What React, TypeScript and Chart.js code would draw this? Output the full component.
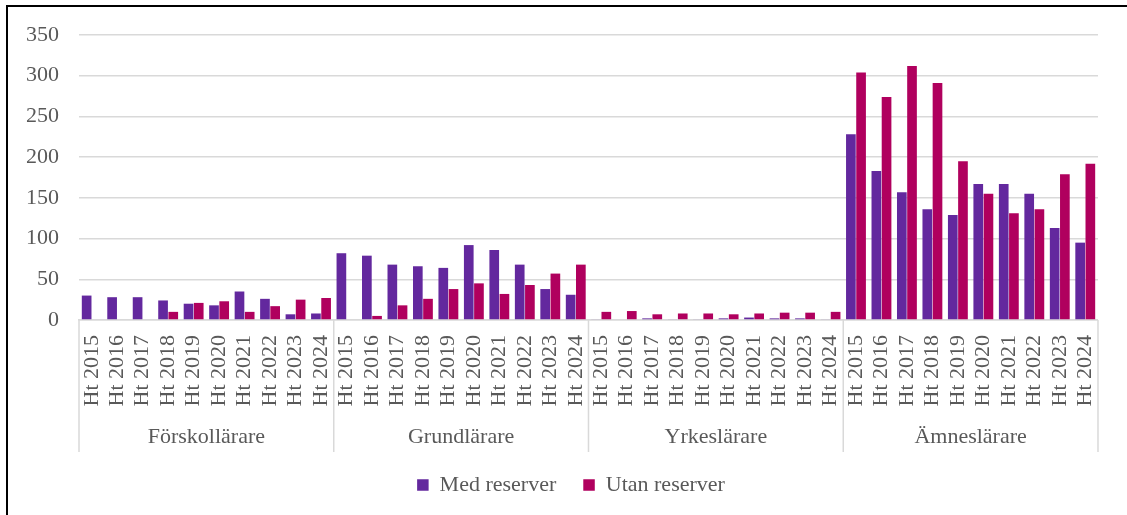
import React, { useEffect, useRef } from "react";
import { Chart, registerables } from "chart.js";

Chart.register(...registerables);

const years = ["Ht 2015", "Ht 2016", "Ht 2017", "Ht 2018", "Ht 2019", "Ht 2020", "Ht 2021", "Ht 2022", "Ht 2023", "Ht 2024"];
const groups = ["Förskollärare", "Grundlärare", "Yrkeslärare", "Ämneslärare"];

const medForskollarare = [30, 28, 28, 24, 20, 18, 35, 26, 7, 8];
const utanForskollarare = [0, 0, 0, 10, 21, 23, 10, 17, 25, 27];
const medGrundlarare = [82, 79, 68, 66, 64, 92, 86, 68, 38, 31];
const utanGrundlarare = [0, 5, 18, 26, 38, 45, 32, 43, 57, 68];
const medYrkeslarare = [1, 0, 2, 1, 1, 2, 3, 2, 2, 1];
const utanYrkeslarare = [10, 11, 7, 8, 8, 7, 8, 9, 9, 10];
const medAmneslarare = [228, 183, 157, 136, 129, 167, 167, 155, 113, 95];
const utanAmneslarare = [304, 274, 312, 291, 195, 155, 131, 136, 179, 192];

const seriesNames = ["Med reserver", "Utan reserver"];
const yTicks = [0, 50, 100, 150, 200, 250, 300, 350];

const FONT = "'Liberation Serif', 'Times New Roman', serif";
const FSIZE = 22;
const TEXT = "#595959";
const GRID = "#d9d9d9";
const PLOT_BOTTOM = 320;
const PLOT_LEFT = 79;
const LEGEND_LEFT = 43;
const PAD_BOTTOM = 9;
const GROUP_BOTTOM = 452;
const GROUP_LABEL_Y = 437;

const groupPlugin = {
  id: "groupLabels",
  beforeDraw(chart: any) {
    const lg = chart.legend;
    if (lg) lg.left = LEGEND_LEFT;
  },
  afterDraw(chart: any) {
    const x = chart.scales.x;
    const ctx = chart.ctx;
    const n = years.length;
    const bounds: number[] = [];
    for (let g = 0; g <= groups.length; g++) {
      if (g === 0) bounds.push(x.left);
      else if (g === groups.length) bounds.push(x.right);
      else bounds.push((x.getPixelForValue(g * n - 1) + x.getPixelForValue(g * n)) / 2);
    }
    ctx.save();
    ctx.strokeStyle = GRID;
    ctx.lineWidth = 1.5;
    bounds.forEach((b) => {
      ctx.beginPath();
      ctx.moveTo(b, chart.chartArea.bottom);
      ctx.lineTo(b, GROUP_BOTTOM);
      ctx.stroke();
    });
    ctx.fillStyle = TEXT;
    ctx.font = `${FSIZE}px ${FONT}`;
    ctx.textAlign = "center";
    ctx.textBaseline = "middle";
    groups.forEach((name, g) => {
      ctx.fillText(name, (bounds[g] + bounds[g + 1]) / 2, GROUP_LABEL_Y);
    });
    ctx.restore();
  },
};

export default function App() {
  const ref = useRef<HTMLCanvasElement | null>(null);

  useEffect(() => {
    if (!ref.current) return;
    const labels: string[] = [];
    groups.forEach(() => years.forEach((y) => labels.push(y)));
    const med = [...medForskollarare, ...medGrundlarare, ...medYrkeslarare, ...medAmneslarare];
    const utan = [...utanForskollarare, ...utanGrundlarare, ...utanYrkeslarare, ...utanAmneslarare];

    const chart = new Chart(ref.current, {
      type: "bar",
      data: {
        labels,
        datasets: [
          {
            label: seriesNames[0],
            data: med,
            backgroundColor: "#63289e",
            borderWidth: 0,
            categoryPercentage: 0.8,
            barPercentage: 0.95,
          },
          {
            label: seriesNames[1],
            data: utan,
            backgroundColor: "#b0005e",
            borderWidth: 0,
            categoryPercentage: 0.8,
            barPercentage: 0.95,
          },
        ],
      },
      options: {
        animation: false,
        responsive: true,
        maintainAspectRatio: false,
        layout: { padding: { top: 35, right: 28, bottom: PAD_BOTTOM, left: 0 } },
        plugins: {
          tooltip: { enabled: false },
          legend: {
            position: "bottom",
            labels: {
              boxWidth: 11.5,
              boxHeight: 11.5,
              padding: 27,
              color: TEXT,
              font: { family: FONT, size: FSIZE },
            },
          },
        },
        scales: {
          x: {
            grid: { display: false, drawTicks: false },
            border: { display: true, color: GRID, width: 1.5 },
            ticks: {
              autoSkip: false,
              minRotation: 90,
              maxRotation: 90,
              padding: 15,
              color: TEXT,
              font: { family: FONT, size: FSIZE },
            },
            afterFit(scale: any) {
              const legendH = scale.chart.legend ? scale.chart.legend.height : 53;
              scale.height = scale.chart.height - PLOT_BOTTOM - legendH - PAD_BOTTOM;
            },
          },
          y: {
            min: 0,
            max: 350,
            afterBuildTicks(scale: any) {
              scale.ticks = yTicks.map((v) => ({ value: v }));
            },
            grid: { color: GRID, lineWidth: 1.5, drawTicks: false },
            border: { display: false },
            ticks: {
              padding: 20,
              color: TEXT,
              font: { family: FONT, size: FSIZE },
            },
            afterFit(scale: any) {
              scale.width = PLOT_LEFT;
            },
          },
        },
      },
      plugins: [groupPlugin],
    });
    return () => chart.destroy();
  }, []);

  return (
    <div style={{ position: "fixed", left: 0, top: 0, width: 1127, height: 515, background: "#fff", overflow: "hidden" }}>
      <div
        style={{
          position: "absolute",
          left: 6,
          top: 5,
          width: 1200,
          height: 600,
          border: "2px solid #000",
          boxSizing: "border-box",
        }}
      />
      <div style={{ position: "absolute", left: 0, top: 0, width: 1127, height: 515 }}>
        <canvas ref={ref} />
      </div>
    </div>
  );
}
